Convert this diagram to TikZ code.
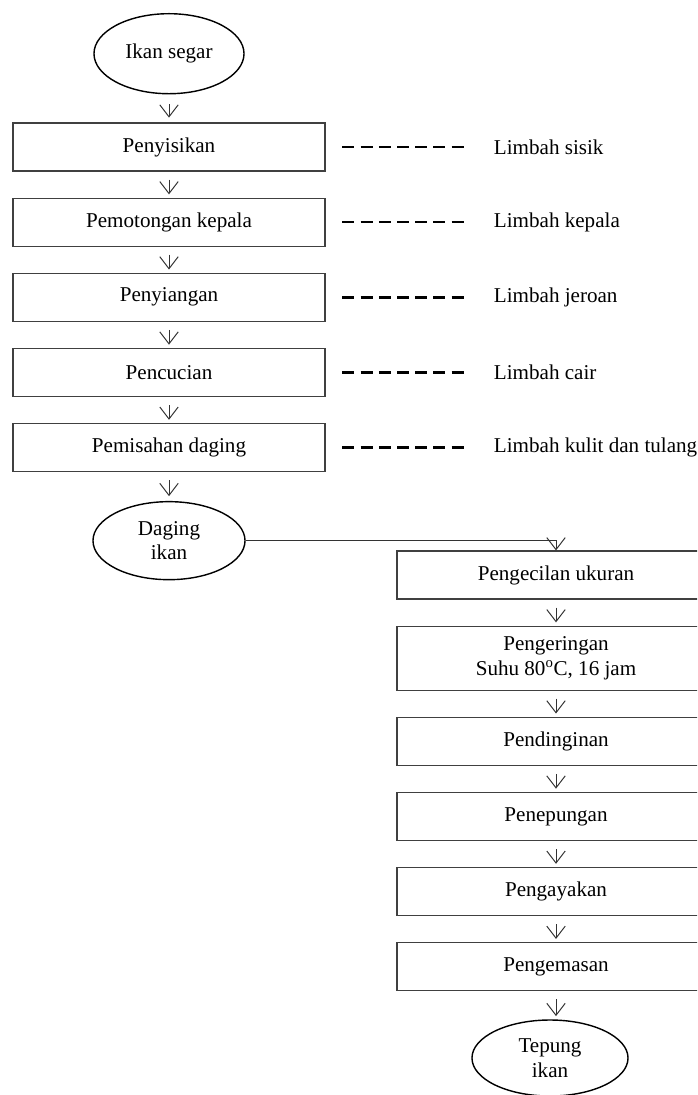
\documentclass[tikz,border=0pt]{standalone}
\usepackage{fontspec}
\setmainfont{Liberation Serif}
\usetikzlibrary{positioning,arrows.meta,shapes.geometric}

\begin{document}
\begin{tikzpicture}[
    x=0.025cm, y=-0.025cm,
    font=\fontsize{15}{17.5}\selectfont,
    node distance=0.65cm and 4.2cm,
    proc/.style={draw=black!75, line width=0.8pt,
                 minimum width=7.8cm, minimum height=1.2cm,
                 align=center},
    wide/.style={proc, minimum width=7.95cm},
    term/.style={draw, line width=1pt, ellipse,
                 minimum width=3.8cm, minimum height=1.95cm,
                 inner sep=0pt, align=center},
    waste/.style={inner sep=0pt, anchor=west},
    arr/.style={-{Straight Barb[length=3mm,width=4.6mm]}, line width=0.7pt,
                draw=black!80, shorten <=0.2cm, shorten >=0.08cm},
    cut/.style={line width=1.8pt, dash pattern=on 0.3cm off 0.155cm,
                shorten <=0.42cm, shorten >=0.75cm}
  ]
    \useasboundingbox (0,0) rectangle (697,1095);
    \clip (0,0) rectangle (697,1095);
    % left column
    \node[proc] (P1) at (169,147) {Penyisikan};
    \node[term, above=0.7cm of P1, minimum width=3.75cm, minimum height=2cm] (A) {Ikan segar};
    \node[proc, below=of P1] (P2) {Pemotongan kepala};
    \node[proc, below=of P2] (P3) {Penyiangan};
    \node[proc, below=of P3] (P4) {Pencucian};
    \node[proc, below=of P4] (P5) {Pemisahan daging};
    \node[term, below=0.72cm of P5] (D) {Daging\\ikan};
    % waste
    \node[waste, right=of P1] (W1) {Limbah sisik};
    \node[waste, right=of P2] (W2) {Limbah kepala};
    \node[waste, right=of P3] (W3) {Limbah jeroan};
    \node[waste, right=of P4] (W4) {Limbah cair};
    \node[waste, right=of P5] (W5) {Limbah kulit dan tulang};
    % right column
    \node[wide] (R1) at (556,575) {Pengecilan ukuran};
    \node[wide, below=of R1, minimum height=1.6cm] (R2) {Pengeringan\\Suhu 80\textsuperscript{o}C, 16 jam};
    \node[wide, below=of R2] (R3) {Pendinginan};
    \node[wide, below=of R3] (R4) {Penepungan};
    \node[wide, below=of R4] (R5) {Pengayakan};
    \node[wide, below=of R5] (R6) {Pengemasan};
    \node[term, below=0.7cm of R6, xshift=-0.15cm, minimum width=3.9cm, minimum height=1.9cm] (T) {Tepung\\ikan};
    \draw[arr, shorten <=0.25cm, shorten >=0.12cm] (A) -- (P1);
    \draw[arr] (P1) -- (P2);
    \draw[arr] (P2) -- (P3);
    \draw[arr] (P3) -- (P4);
    \draw[arr] (P4) -- (P5);
    \draw[arr, shorten >=0.12cm] (P5) -- (D);
    \draw[cut] (P1.east) -- (W1.west);
    \draw[cut] (P2.east) -- (W2.west);
    \draw[cut] (P3.east) -- (W3.west);
    \draw[cut] (P4.east) -- (W4.west);
    \draw[cut] (P5.east) -- (W5.west);
    \draw[arr, shorten <=0pt, shorten >=0pt] (D.east) -| (R1.north);
    \draw[arr] (R1) -- (R2);
    \draw[arr] (R2) -- (R3);
    \draw[arr] (R3) -- (R4);
    \draw[arr] (R4) -- (R5);
    \draw[arr] (R5) -- (R6);
    \draw[arr] (R6.south) -- (R6.south |- T.north);
  \end{tikzpicture}
\end{document}
